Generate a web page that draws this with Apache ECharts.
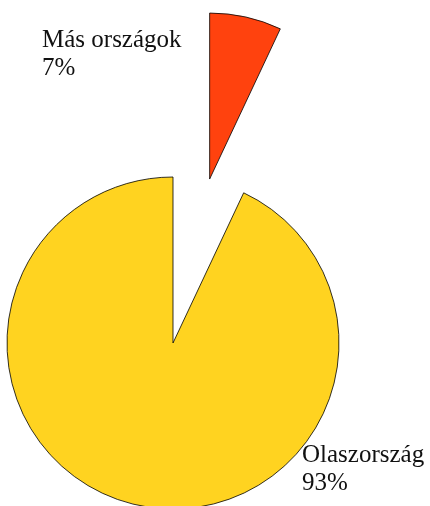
<!DOCTYPE html>
<html>
<head>
<meta charset="utf-8">
<script src="https://cdn.jsdelivr.net/npm/echarts@6/dist/echarts.min.js"></script>
<style>
html, body { margin: 0; padding: 0; background: #fff; }
#chart { width: 430px; height: 506px; }
</style>
</head>
<body>
<div id="chart"></div>
<script>
// adatok
var categories = ['Más országok', 'Olaszország'];
var values = [7, 93];
var colors = ['#ff420e', '#ffd320'];
var labelPos = [[42, 26], [302, 441]]; // címkék bal felső sarka

var chart = echarts.init(document.getElementById('chart'));

var total = values.reduce(function (a, b) { return a + b; }, 0);

var option = {
  animation: false,
  series: [
    {
      type: 'pie',
      center: [173, 343],
      radius: 166,
      startAngle: 90,
      clockwise: true,
      selectedMode: 'single',
      selectedOffset: 168,
      emphasis: { disabled: true },
      itemStyle: {
        borderColor: '#000',
        borderWidth: 0.8
      },
      label: { show: false },
      labelLine: { show: false },
      data: categories.map(function (name, i) {
        return {
          name: name,
          value: values[i],
          selected: i === 0,
          itemStyle: { color: colors[i] }
        };
      })
    }
  ],
  // címkék
  graphic: categories.map(function (name, i) {
    return {
      type: 'text',
      left: labelPos[i][0],
      top: labelPos[i][1],
      style: {
        text: name + '\n' + Math.round(values[i] / total * 100) + '%',
        font: '25px "Liberation Serif"',
        lineHeight: 28,
        fill: '#111'
      }
    };
  })
};

chart.setOption(option);
</script>
</body>
</html>
